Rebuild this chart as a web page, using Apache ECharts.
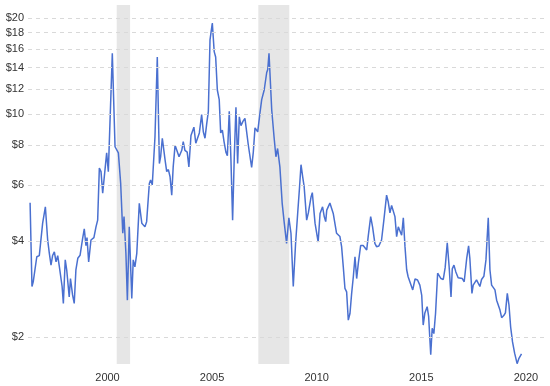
<!DOCTYPE html>
<html>
<head>
<meta charset="utf-8">
<script src="https://cdn.jsdelivr.net/npm/echarts@6/dist/echarts.min.js"></script>
<style>html,body{margin:0;padding:0;background:#fff}#c{width:550px;height:386px}</style>
</head>
<body>
<div id="c"></div>
<script>
// decimal year of each reading, and price (USD)
var years = [
1996.30,1996.39,1996.45,1996.62,1996.69,1996.74,1996.90,1997.03,1997.14,1997.22,1997.30,1997.38,1997.46,1997.54,1997.62,1997.70,1997.83,1997.89,1997.98,1998.05,1998.17,1998.23,1998.33,1998.41,1998.49,1998.58,1998.69,1998.81,1998.89,1998.97,1999.02,1999.10,1999.21,1999.26,1999.35,1999.45,1999.53,1999.61,1999.69,1999.77,1999.96,2000.04,2000.23,2000.36,2000.52,2000.63,2000.73,2000.79,2000.88,2000.95,2001.04,2001.16,2001.23,2001.31,2001.40,2001.52,2001.64,2001.71,2001.79,2001.87,2002.00,2002.06,2002.14,2002.27,2002.38,2002.48,2002.54,2002.62,2002.75,2002.83,2002.91,2002.99,2003.07,2003.14,2003.23,2003.31,2003.42,2003.55,2003.62,2003.70,2003.81,2003.89,2003.99,2004.13,2004.22,2004.30,2004.39,2004.50,2004.58,2004.66,2004.74,2004.82,2004.90,2005.01,2005.10,2005.17,2005.25,2005.34,2005.41,2005.49,2005.57,2005.66,2005.73,2005.82,2005.90,2005.98,2006.06,2006.14,2006.22,2006.30,2006.38,2006.48,2006.57,2006.65,2006.73,2006.81,2006.89,2006.97,2007.05,2007.18,2007.29,2007.37,2007.49,2007.61,2007.66,2007.72,2007.85,2007.96,2008.05,2008.13,2008.24,2008.35,2008.45,2008.56,2008.67,2008.77,2008.88,2008.99,2009.09,2009.17,2009.25,2009.33,2009.40,2009.52,2009.60,2009.73,2009.79,2009.92,2010.07,2010.16,2010.28,2010.36,2010.43,2010.48,2010.63,2010.79,2010.95,2011.11,2011.19,2011.27,2011.35,2011.43,2011.51,2011.59,2011.67,2011.75,2011.83,2011.91,2011.99,2012.10,2012.22,2012.39,2012.46,2012.58,2012.67,2012.78,2012.86,2012.97,2013.10,2013.21,2013.34,2013.42,2013.50,2013.58,2013.74,2013.82,2013.90,2013.98,2014.06,2014.14,2014.22,2014.30,2014.37,2014.46,2014.59,2014.70,2014.82,2014.93,2015.02,2015.09,2015.17,2015.28,2015.35,2015.45,2015.52,2015.60,2015.68,2015.78,2015.86,2015.94,2016.05,2016.14,2016.24,2016.33,2016.42,2016.48,2016.56,2016.65,2016.76,2016.85,2016.96,2017.05,2017.17,2017.26,2017.32,2017.42,2017.48,2017.56,2017.64,2017.72,2017.80,2017.88,2017.99,2018.09,2018.20,2018.28,2018.36,2018.44,2018.52,2018.60,2018.68,2018.76,2018.84,2018.95,2019.02,2019.11,2019.19,2019.27,2019.36,2019.46,2019.58,2019.66,2019.79
];
var prices = [
5.27,2.88,2.98,3.57,3.53,3.60,4.55,5.12,4.03,3.66,3.36,3.61,3.70,3.44,3.60,3.32,2.88,2.55,3.49,3.25,2.67,3.05,2.71,2.55,3.25,3.53,3.61,4.07,4.37,3.87,4.10,3.44,4.03,4.07,4.10,4.43,4.65,6.77,6.60,5.65,7.56,6.60,15.5,7.9,7.56,6.06,4.23,4.77,3.66,2.61,4.43,2.64,3.49,3.32,3.66,5.25,4.55,4.60,4.43,4.60,6.06,6.21,6.00,8.49,15.1,7.0,7.35,8.4,7.2,6.6,6.7,6.36,5.57,6.83,7.98,8.0,7.35,7.7,8.2,7.7,7.6,6.83,8.57,9.1,8.1,8.2,8.73,9.96,8.8,8.4,9.3,10.2,17.1,19.3,15.7,15.1,11.9,11.1,8.73,8.9,8.2,7.6,7.4,10.2,7.2,4.65,7.35,10.5,7.0,9.8,9.2,9.5,9.7,9.6,8.0,8.1,6.8,7.6,9.05,8.8,10.1,11.1,11.9,13.5,13.8,15.5,10.3,8.49,7.35,7.8,6.83,5.25,4.55,3.93,4.73,4.23,2.88,3.93,4.88,5.78,6.94,6.36,5.92,4.65,4.9,5.5,5.67,4.55,3.97,4.88,5.12,4.77,4.6,5.0,5.26,4.88,4.23,4.13,3.84,3.32,2.84,2.77,2.26,2.37,2.74,3.09,3.57,3.05,3.41,3.87,3.87,3.75,4.13,4.77,4.43,3.93,3.84,3.86,4.03,4.65,5.57,5.3,4.9,5.17,4.77,4.13,4.43,4.49,4.17,4.73,3.84,3.25,3.09,3.05,2.81,3.04,3.02,2.91,2.7,2.18,2.38,2.49,2.32,1.76,2.13,2.05,2.37,3.17,3.18,3.05,3.03,3.3,3.95,3.32,2.67,3.27,3.36,3.2,3.07,3.05,3.05,2.98,3.53,3.86,3.53,2.74,2.91,2.88,3.02,3.0,2.88,3.03,3.1,3.49,4.73,3.25,2.91,2.91,2.81,2.61,2.58,2.43,2.3,2.34,2.38,2.74,2.52,2.15,1.93,1.78,1.65,1.71,1.77
];
var yTicks = [2,4,6,8,10,12,14,16,18,20];
var xTicks = [2000,2005,2010,2015,2020];
var recessions = [[2000.44,2001.08],[2007.21,2008.69]];

var series = years.map(function(y,i){return [y, prices[i]];});
var font = 'Liberation Sans, Arial, sans-serif';

var chart = echarts.init(document.getElementById('c'), null, {renderer:'canvas'});
chart.setOption({
  animation: false,
  backgroundColor: '#fff',
  grid: {left: 28, right: 4, top: 5, bottom: 22},
  xAxis: {
    type: 'value', min: 1996.2, max: 2020.96,
    splitLine: {show: false}, axisLine: {show: false}, axisTick: {show: false},
    axisLabel: {customValues: xTicks, formatter: function(v){return String(Math.round(v));},
      color: '#333', fontSize: 11, fontFamily: font, margin: 8}
  },
  yAxis: {
    type: 'log', logBase: 10, min: 1.646, max: 21.98,
    splitLine: {show: false}, axisLine: {show: false}, axisTick: {show: false},
    axisLabel: {show: false}
  },
  series: [
    {
      type: 'line', z: 1, data: series, showSymbol: false, silent: true,
      lineStyle: {opacity: 0},
      markLine: {
        silent: true, symbol: ['none','none'], animation: false,
        lineStyle: {type: [4,4], color: '#d9d9d9', width: 1},
        label: {position: 'start', formatter: function(p){return '$' + p.value;},
          color: '#333', fontSize: 11, fontFamily: font, distance: 4},
        data: yTicks.map(function(t){return {yAxis: t};})
      }
    },
    {
      type: 'line', z: 2, data: series, showSymbol: false, silent: true,
      lineStyle: {opacity: 0},
      markArea: {
        silent: true, itemStyle: {color: '#e6e6e6'},
        data: recessions.map(function(r){return [{xAxis: r[0]}, {xAxis: r[1]}];})
      }
    },
    {
      type: 'line', z: 3, data: series, showSymbol: false,
      lineStyle: {color: '#4a70d0', width: 1.5}
    }
  ]
});
</script>
</body>
</html>
